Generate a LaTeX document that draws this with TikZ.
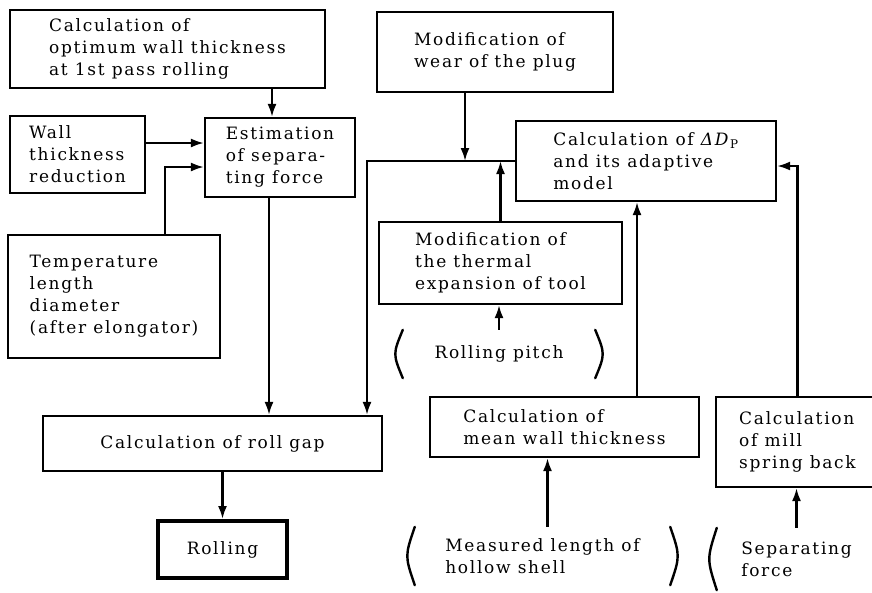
\documentclass[tikz,border=0pt]{standalone}
\usepackage{fontspec}
\setmainfont{DejaVu Serif}[LetterSpace=10]
\usetikzlibrary{calc,positioning,arrows.meta}
\newcommand{\boxfont}{\fontsize{17}{22}\selectfont}

\begin{document}
\begin{tikzpicture}[x=1pt, y=-1pt,
  box/.style={draw, line width=2.2pt, align=left, inner sep=0pt, font=\boxfont},
  inp/.style={align=left, inner sep=0pt, font=\boxfont},
  paren/.style={line width=2.4pt, line cap=round},
  arr/.style={-{Latex[length=13pt, width=9pt]}, line width=2.2pt}
]
  \clip (0,0) rectangle (872,592);

  % left column
  \node[box, minimum width=315, minimum height=78] (optwall) at (167.5,49)
    {Calculation of\\optimum wall thickness\\at 1st pass rolling};
  \node[box, minimum width=135, minimum height=77] (wallred) at (77.5,154.5)
    {Wall\\thickness\\reduction};
  \node[box, minimum width=150, minimum height=79] (estsep) at (280,157.5)
    {Estimation\\of separa-\\ting force};
  \node[box, minimum width=212, minimum height=123] (temp) at (114,296.5)
    {Temperature\\length\\diameter\\(after elongator)};
  \node[box, minimum width=339, minimum height=55] (rollgap) at (212.5,443.5)
    {Calculation of roll gap};
  \node[box, line width=4pt, minimum width=129, minimum height=57] (rolling) at (222.5,549.5)
    {Rolling};

  % right part
  \node[box, minimum width=236, minimum height=80] (wear) at (495,52)
    {Modification of\\wear of the plug};
  \node[box, minimum width=260, minimum height=80] (deltaD) at (646,161)
    {Calculation of \textit{ΔD}\textsubscript{P}\\and its adaptive\\model};
  \node[box, minimum width=243, minimum height=82] (thermal) at (500.5,263)
    {Modification of\\the thermal\\expansion of tool};
  \node[box, minimum width=269, minimum height=60] (meanwall) at (564.5,427)
    {Calculation of\\mean wall thickness};
  \node[box, minimum width=163, minimum height=90] (spring) at (797.5,442)
    {Calculation\\of mill\\spring back};

  % inputs in brackets
  \node[inp, minimum width=192, minimum height=48] (pitch) at (499,354)
    {Rolling pitch};
  \node[inp, minimum width=255, minimum height=58] (measured) at (542.5,556)
    {Measured length of\\hollow shell};
  \node[inp, minimum width=159, minimum height=62] (sepforce) at (796.5,559)
    {Separating\\force};

  \draw[paren] (pitch.north west) .. controls ([xshift=-10pt]pitch.west) .. (pitch.south west);
  \draw[paren] (pitch.north east) .. controls ([xshift=10pt]pitch.east) .. (pitch.south east);
  \draw[paren] (measured.north west) .. controls ([xshift=-10pt]measured.west) .. (measured.south west);
  \draw[paren] (measured.north east) .. controls ([xshift=10pt]measured.east) .. (measured.south east);
  \draw[paren] (sepforce.north west) .. controls ([xshift=-10pt]sepforce.west) .. (sepforce.south west);

  \coordinate (wj) at (465,161);
  \coordinate (gj) at (367,161);

  % connectors
  \draw[arr] ([xshift=-8pt]estsep.north |- optwall.south) -- ([xshift=-8pt]estsep.north);
  \draw[arr] ([yshift=11.5pt]wallred.east) -- ([yshift=11.5pt]wallred.east -| estsep.west);
  \draw[arr] ([xshift=51pt]temp.north) |- ([yshift=-9.5pt]estsep.west);
  \draw[arr] ([xshift=-11pt]estsep.south) -- ([xshift=-11pt]estsep.south |- rollgap.north);
  \draw[arr] (deltaD.west) -- (gj) -- (gj |- rollgap.north);
  \draw[arr] (wear.south -| wj) -- (wj);
  \draw[arr] (thermal.north) -- (thermal.north |- deltaD.west);
  \draw[arr] (pitch.north) -- (pitch.north |- thermal.south);
  \draw[arr] ([xshift=-9pt]deltaD.south |- meanwall.north) -- ([xshift=-9pt]deltaD.south);
  \draw[arr] (spring.north) |- ([yshift=-5pt]deltaD.east);
  \draw[arr] ([xshift=5pt]measured.north) -- ([xshift=5pt]measured.north |- meanwall.south);
  \draw[arr] (sepforce.north) -- (sepforce.north |- spring.south);
  \draw[arr] (rolling.north |- rollgap.south) -- (rolling.north);
\end{tikzpicture}
\end{document}
